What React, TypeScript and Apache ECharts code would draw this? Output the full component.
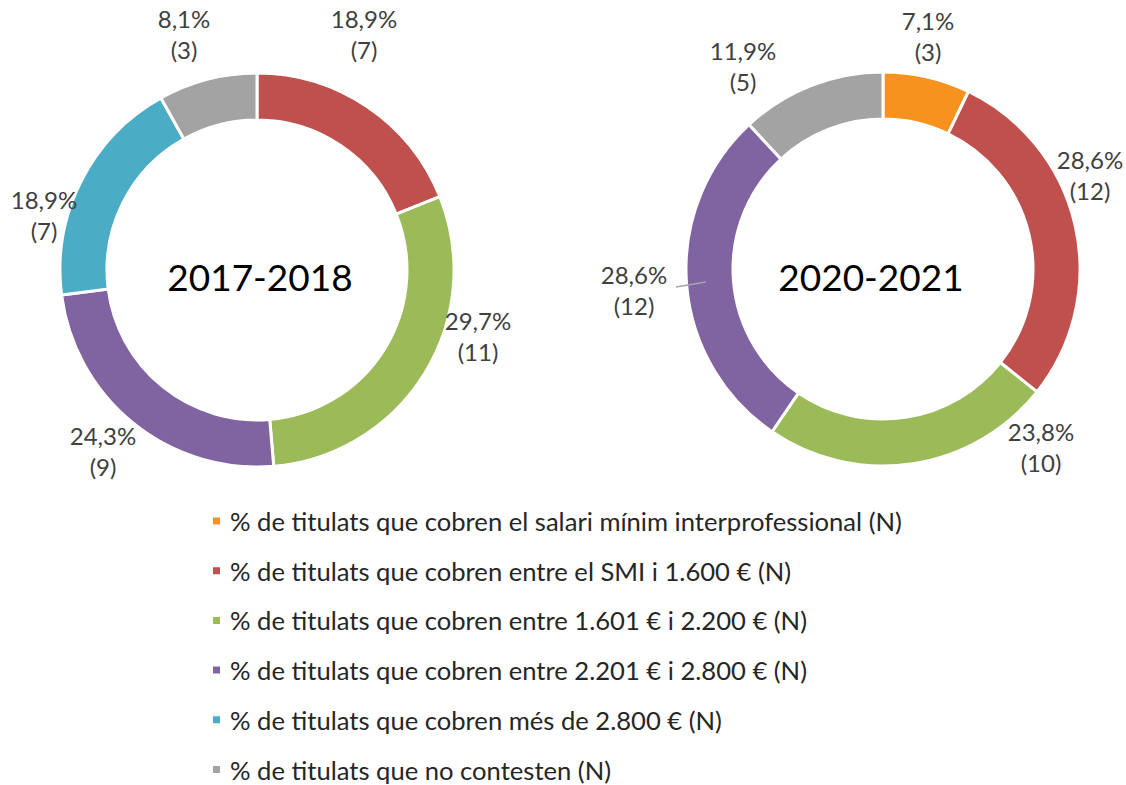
import React, { useEffect, useRef } from "react";
import * as echarts from "echarts";

// ---------- data ----------
const categories = [
  "% de titulats que cobren el salari mínim interprofessional (N)",
  "% de titulats que cobren entre el SMI i 1.600 € (N)",
  "% de titulats que cobren entre 1.601 € i 2.200 € (N)",
  "% de titulats que cobren entre 2.201 € i 2.800 € (N)",
  "% de titulats que cobren més de 2.800 € (N)",
  "% de titulats que no contesten (N)",
];
const periods = ["2017-2018", "2020-2021"];
const counts2017 = [0, 7, 11, 9, 7, 3];
const counts2020 = [3, 12, 10, 12, 0, 5];

// ---------- styles / layout ----------
const colors = ["#F7921E", "#C0504D", "#9BBB59", "#8064A2", "#4BACC6", "#A3A3A3"];
const FONT = "Lato";
const centers = [
  [257, 270],
  [883, 269],
];
const radii = [150, 197];
const titleOffsets = [
  [3, 6],
  [-12, 7],
];
// label block centres relative to each donut centre, per category
const labelOffsets = [
  [[0, 0], [107, -236], [221, 66], [-154, 181], [-213, -55], [-73, -236]],
  [[45, -233], [207, -94], [158, 178], [-249, 21], [0, 0], [-140, -203]],
];
const leaderLine = { series: 1, pts: [[-207, 18], [-177, 13]] };

const allCounts = [counts2017, counts2020];

export default function App() {
  const ref = useRef<HTMLDivElement>(null);
  useEffect(() => {
    if (!ref.current) return;
    const chart = echarts.init(ref.current, undefined, { renderer: "svg" });

    const idxMaps: number[][] = [];
    const series = allCounts.map((counts, si) => {
      const total = counts.reduce((a, b) => a + b, 0);
      const items = categories
        .map((name, i) => ({ name, value: counts[i], i }))
        .filter((d) => d.value > 0);
      idxMaps[si] = items.map((d) => d.i);
      return {
        type: "pie",
        name: periods[si],
        center: centers[si],
        radius: radii,
        startAngle: 90,
        clockwise: true,
        avoidLabelOverlap: false,
        silent: true,
        emphasis: { disabled: true },
        itemStyle: { borderColor: "#ffffff", borderWidth: 3 },
        label: {
          show: true,
          position: "outside",
          fontFamily: FONT,
          fontSize: 24,
          lineHeight: 31,
          color: "#404040",
          formatter: (p: any) =>
            `${((p.value / total) * 100).toFixed(1).replace(".", ",")}%\n(${p.value})`,
        },
        labelLine: { show: false },
        labelLayout: (params: any) => {
          const s = params.seriesIndex;
          const ci = idxMaps[s][params.dataIndex];
          const [dx, dy] = labelOffsets[s][ci];
          return {
            x: centers[s][0] + dx,
            y: centers[s][1] + dy,
            align: "center",
            verticalAlign: "middle",
          };
        },
        data: items.map((d) => ({
          name: d.name,
          value: d.value,
          itemStyle: { color: colors[d.i] },
        })),
      };
    });

    const c = centers[leaderLine.series];
    chart.setOption({
      animation: false,
      backgroundColor: "#ffffff",
      legend: {
        orient: "vertical",
        left: 206,
        top: 503,
        height: 290,
        data: categories,
        icon: "rect",
        itemWidth: 9,
        itemHeight: 9,
        itemGap: 23.7,
        selectedMode: false,
        textStyle: {
          fontFamily: FONT,
          fontSize: 25.6,
          lineHeight: 24,
          color: "#262626",
          padding: [0, 0, 0, 4],
        },
      },
      graphic: [
        ...periods.map((t, si) => ({
          type: "text",
          x: centers[si][0] + titleOffsets[si][0],
          y: centers[si][1] + titleOffsets[si][1],
          style: {
            text: t,
            fontFamily: FONT,
            fontSize: 37,
            fill: "#000000",
            align: "center",
            verticalAlign: "middle",
          },
        })),
        {
          type: "line",
          z: 100,
          shape: {
            x1: c[0] + leaderLine.pts[0][0],
            y1: c[1] + leaderLine.pts[0][1],
            x2: c[0] + leaderLine.pts[1][0],
            y2: c[1] + leaderLine.pts[1][1],
          },
          style: { stroke: "#A6A6A6", lineWidth: 1.5 },
        },
      ],
      series,
    });
    return () => chart.dispose();
  }, []);
  return (
    <div
      ref={ref}
      style={{ position: "absolute", left: 0, top: 0, width: 1126, height: 785 }}
    />
  );
}
